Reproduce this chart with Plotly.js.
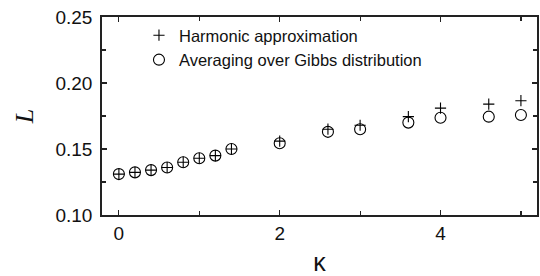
<!DOCTYPE html>
<html>
<head>
<meta charset="utf-8">
<script src="https://cdn.plot.ly/plotly-3.0.1.min.js"></script>
<style>html,body{margin:0;padding:0;background:#fff}#chart{width:540px;height:276px}</style>
</head>
<body>
<div id="chart"></div>
<script>
const kappa = [0, 0.2, 0.4, 0.6, 0.8, 1.0, 1.2, 1.4, 2.0, 2.6, 3.0, 3.6, 4.0, 4.6, 5.0];
const harmonic = [0.131, 0.1323, 0.134, 0.136, 0.140, 0.143, 0.145, 0.150, 0.156, 0.165, 0.168, 0.1745, 0.181, 0.184, 0.1866];
const gibbs = [0.131, 0.1323, 0.134, 0.136, 0.140, 0.143, 0.145, 0.150, 0.1543, 0.163, 0.165, 0.170, 0.1737, 0.1745, 0.1758];
const seriesNames = ["Harmonic approximation", "Averaging over Gibbs distribution"];
const xTicks = [0, 2, 4];
const yTicks = [0.10, 0.15, 0.20, 0.25];

const axisColor = '#222';
const traces = [
  {x: kappa, y: harmonic, name: seriesNames[0], mode: 'markers', type: 'scatter',
   marker: {symbol: 'cross-thin-open', size: 8, color: '#000', line: {width: 1.1, color: '#000'}}},
  {x: kappa, y: gibbs, name: seriesNames[1], mode: 'markers', type: 'scatter',
   marker: {symbol: 'circle-open', size: 11, color: '#000', line: {width: 1.1, color: '#000'}}}
];
const layout = {
  width: 540, height: 276,
  margin: {l: 102, r: 3, t: 17, b: 61},
  paper_bgcolor: '#fff', plot_bgcolor: '#fff',
  font: {family: 'Liberation Sans, Arial, sans-serif', color: '#111'},
  showlegend: true,
  legend: {x: 0.085, y: 0.995, xanchor: 'left', yanchor: 'top', bgcolor: 'rgba(0,0,0,0)',
           font: {size: 16.5, color: '#111'}, tracegroupgap: 0},
  xaxis: {range: [-0.21, 5.2], tickvals: xTicks, ticktext: xTicks.map(String),
          ticks: 'inside', ticklen: 5, tickwidth: 1.2, tickcolor: axisColor,
          showline: true, linecolor: axisColor, linewidth: 1.8, mirror: 'ticks',
          showgrid: false, zeroline: false, tickfont: {size: 19},
          minor: {tickvals: [1, 3, 5], ticks: 'inside', ticklen: 4, tickwidth: 1.2, tickcolor: axisColor, showgrid: false},
          title: {text: 'κ', font: {size: 25, family: 'Liberation Sans, Arial, sans-serif'}, standoff: 24}},
  yaxis: {range: [0.10, 0.25], tickvals: yTicks, ticktext: yTicks.map(v => v.toFixed(2)),
          ticks: 'inside', ticklen: 5, tickwidth: 1.2, tickcolor: axisColor,
          showline: true, linecolor: axisColor, linewidth: 1.8, mirror: 'ticks',
          showgrid: false, zeroline: false, tickfont: {size: 19}, ticklabelstandoff: 4,
          minor: {tickvals: [0.125, 0.175, 0.225], ticks: 'inside', ticklen: 4, tickwidth: 1.2, tickcolor: axisColor, showgrid: false},
          title: {text: '<i>L</i>', font: {size: 26, family: 'Liberation Serif, Times New Roman, serif'}, standoff: 14}}
};
Plotly.newPlot('chart', traces, layout, {displayModeBar: false, staticPlot: true});
</script>
</body>
</html>
